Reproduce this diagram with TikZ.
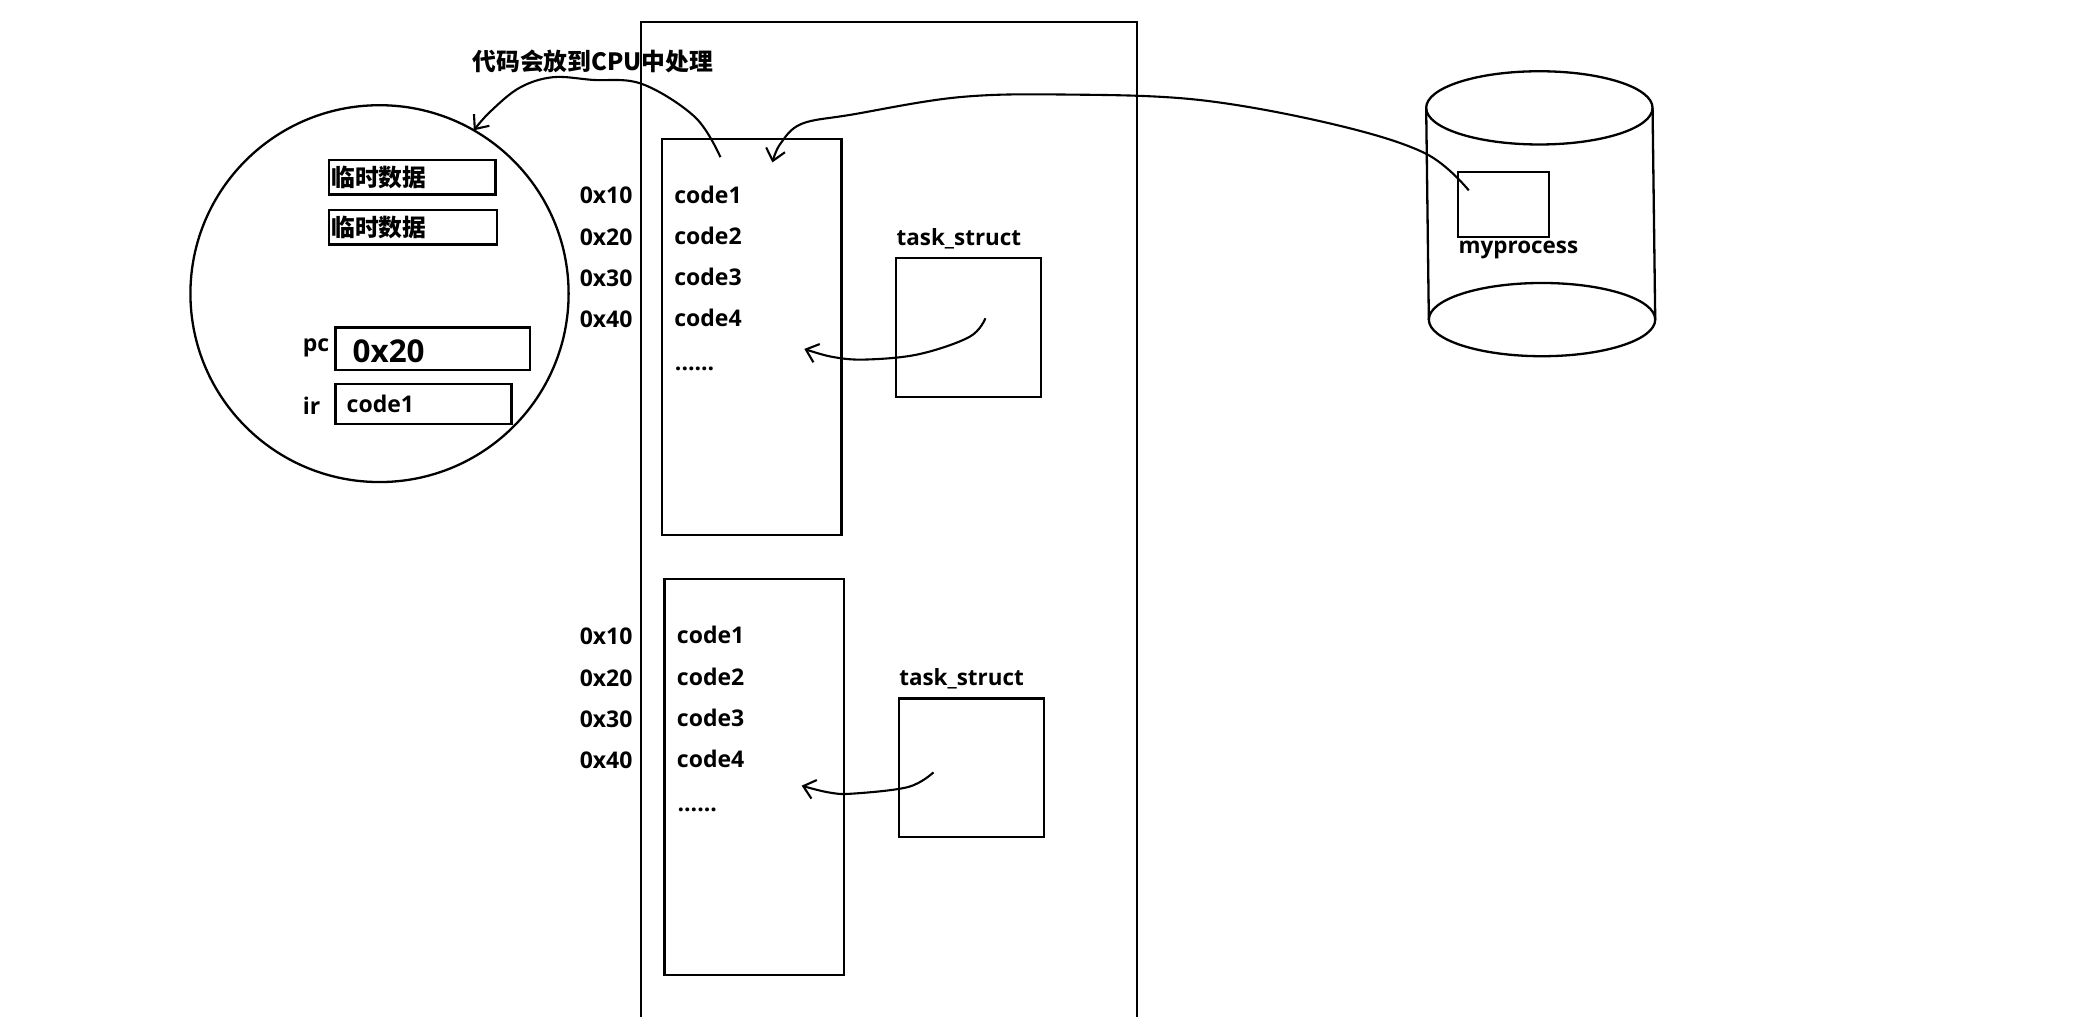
\documentclass[tikz,border=0pt]{standalone}
\usepackage{fontspec}
\setmainfont{Open Sans}
\newfontfamily\cjk{Noto Sans CJK SC}
\usetikzlibrary{arrows.meta,positioning,shapes.geometric}
\newlength\ux
\setlength\ux{.6658pt}

\begin{document}
\begin{tikzpicture}[
  x=\ux, y=-\ux,
  font=\fontsize{11.5}{14}\selectfont\bfseries,
  line width=1.15pt,
  box/.style={draw, anchor=north west, inner sep=0pt, outer sep=0pt},
  mem/.style={box, minimum width=135\ux, minimum height=297\ux},
  tsk/.style={box, minimum width=109\ux, minimum height=104\ux},
  reg/.style={box, minimum height=26\ux},
  oval/.style={draw, ellipse, inner sep=0pt, outer sep=0pt},
  lbl/.style={anchor=west, inner sep=0pt},
  nam/.style={lbl, font=\fontsize{11.2}{14}\selectfont\bfseries},
  cn/.style={lbl, font=\cjk\fontsize{11.9}{14}\selectfont\bfseries},
  ar/.style={-{Straight Barb[length=2mm,width=3.4mm]}, line width=1.05pt}
]
\useasboundingbox (0,0) rectangle (1568,769);
\draw (481.5,764) -- (481.5,16.5) -- (854,16.5) -- (854,764);
% two processes in memory
\node[mem] (proca) at (497,104.5) {};
\node[mem] (procb) at (499,435) {};
\node[tsk] (taska) at (673,194) {};
\node[tsk] (taskb) at (675,524.5) {};
\node[nam] (tnamea) at (672.5,179) {task\_struct};
\node[nam] (tnameb) at (674.5,510) {task\_struct};
\node[lbl] (adra1) at (434.5,147) {0x10};
\node[lbl] (adra2) at (434.5,178) {0x20};
\node[lbl] (adra3) at (434.5,209) {0x30};
\node[lbl] (adra4) at (434.5,240) {0x40};
\node[lbl] (coda1) at (505.5,146) {code1};
\node[lbl] (coda2) at (505.5,177) {code2};
\node[lbl] (coda3) at (505.5,208) {code3};
\node[lbl] (coda4) at (505.5,239) {code4};
\node[lbl] (coda5) at (506,277) {......};
\node[lbl] (adrb1) at (434.5,478) {0x10};
\node[lbl] (adrb2) at (434.5,509) {0x20};
\node[lbl] (adrb3) at (434.5,540) {0x30};
\node[lbl] (adrb4) at (434.5,571) {0x40};
\node[lbl] (codb1) at (507.5,477) {code1};
\node[lbl] (codb2) at (507.5,508) {code2};
\node[lbl] (codb3) at (507.5,539) {code3};
\node[lbl] (codb4) at (507.5,570) {code4};
\node[lbl] (codb5) at (508,608) {......};
% cpu
\node[oval, minimum width=284\ux, minimum height=283\ux] (cpu) at (285,220.5) {};
\node[reg, minimum width=125\ux] (tmpa) at (247,120) {};
\node[reg, minimum width=126\ux] (tmpb) at (247,157.5) {};
\node[reg, minimum width=146\ux, minimum height=32\ux] (pcbox) at (252,246) {};
\node[reg, minimum width=132\ux, minimum height=30\ux] (irbox) at (252,288.5) {};
\node[cn, right=1\ux of tmpa.west] (tmpatxt) {临时数据};
\node[cn, right=1\ux of tmpb.west] (tmpbtxt) {临时数据};
\node[lbl, right=12\ux of pcbox.west, yshift=-2\ux, font=\fontsize{15.7}{18}\selectfont\bfseries] (pcval) {0x20};
\node[lbl, right=7.5\ux of irbox.west] (irval) {code1};
\node[lbl] (pcname) at (226.5,261) {pc};
\node[lbl] (irname) at (226.5,304.5) {ir};
\node[cn] (note) at (354,46) {代码会放到CPU中处理};
% disk
\node[oval, minimum width=170\ux, minimum height=55\ux] (dtop) at (1156,81) {};
\node[oval, minimum width=170\ux, minimum height=55\ux] (dbot) at (1158,240) {};
\draw (dtop.west) -- (dbot.west);
\draw (dtop.east) -- (dbot.east);
\node[box, minimum width=68\ux, minimum height=49\ux] (mybox) at (1095,129) {};
\node[nam] (myname) at (1094.5,188) {myprocess};
% hand drawn arrows
\coordinate (codefrom) at (541,118);
\coordinate (procin) at (580,122);
\coordinate (myfrom) at (1103,143);
\coordinate (tafrom) at (740,239);
\coordinate (tain) at (604,262);
\coordinate (tbfrom) at (701,580);
\coordinate (tbin) at (602,590);
\draw[ar] plot[smooth, tension=.6] coordinates {(codefrom) (522,88) (482,63) (445,60) (415,58) (390,66) (368,84) (cpu.60)};
\draw[ar] plot[smooth, tension=.6] coordinates {(myfrom) (1070,115) (1000,93) (900,75) (800,71) (720,73) (640,86) (602,93) (586,108) (procin)};
\draw[ar] plot[smooth, tension=.6] coordinates {(tafrom) (728,253) (690,266) (650,270) (625,268) (tain)};
\draw[ar] plot[smooth, tension=.6] coordinates {(tbfrom) (682,591) (640,596) (622,595) (tbin)};
\end{tikzpicture}
\end{document}
